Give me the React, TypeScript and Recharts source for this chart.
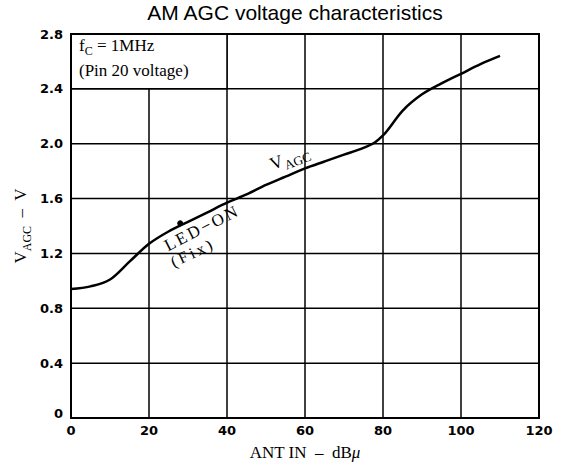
import React from 'react';
import {
  LineChart,
  Line,
  XAxis,
  YAxis,
  CartesianGrid,
  ReferenceArea,
  ReferenceDot,
} from 'recharts';

// ANT IN (dBμ) vs V_AGC (V)
const antIn = [0, 5, 10, 15, 20, 25, 30, 35, 40, 45, 50, 55, 60, 65, 70, 75, 78, 80, 85, 90, 95, 100, 105, 110];
const vAgc = [0.94, 0.96, 1.01, 1.14, 1.27, 1.36, 1.43, 1.5, 1.57, 1.63, 1.7, 1.76, 1.82, 1.87, 1.92, 1.97, 2.01, 2.06, 2.24, 2.36, 2.44, 2.51, 2.58, 2.64];

const xTicks = [0, 20, 40, 60, 80, 100, 120];
const yTicks = [0, 0.4, 0.8, 1.2, 1.6, 2.0, 2.4, 2.8];

// LED-ON (Fix) marker on the curve
const ledOnPoint = { x: 28, y: 1.42 };

const data = antIn.map((x, i) => ({ x, v: vAgc[i] }));

const serif = '"Liberation Serif", "DejaVu Serif", serif';
const tickFont = { fontFamily: '"DejaVu Sans", sans-serif', fontSize: 13, fontWeight: 700, fill: '#000' };

const YTick = (props: any) => {
  const { x, y, payload } = props;
  const label = payload.value === 0 ? '0' : payload.value.toFixed(1);
  return (
    <text x={x} y={payload.value === 0 ? y - 5 : y} dy="0.35em" textAnchor="end" {...tickFont}>
      {label}
    </text>
  );
};

// rotated text centred on (cx, cy)
const Tilted = ({ cx, cy, angle, size, spacing = 0, children }: any) => (
  <div
    style={{
      position: 'absolute',
      left: cx,
      top: cy,
      fontFamily: serif,
      fontSize: size,
      letterSpacing: spacing,
      lineHeight: 1,
      whiteSpace: 'nowrap',
      transform: `translate(-50%, -50%) rotate(${angle}deg)`,
    }}
  >
    {children}
  </div>
);

const App: React.FC = () => {
  return (
    <div
      style={{
        position: 'absolute',
        left: 0,
        top: 0,
        width: 565,
        height: 468,
        background: '#fff',
      }}
    >
      <div
        style={{
          position: 'absolute',
          left: 0,
          width: 590,
          top: 0,
          textAlign: 'center',
          fontFamily: '"Liberation Sans", Arial, sans-serif',
          fontSize: 21,
          lineHeight: '26px',
        }}
      >
        AM AGC voltage characteristics
      </div>

      <LineChart
        width={565}
        height={468}
        data={data}
        margin={{ top: 34, right: 26, bottom: 20, left: 11 }}
      >
        <CartesianGrid stroke="#000" strokeWidth={1.5} />
        <ReferenceArea
          x1={0}
          x2={40}
          y1={2.4}
          y2={2.8}
          fill="#fff"
          fillOpacity={1}
          stroke="#000"
          strokeWidth={1.5}
        />
        <ReferenceArea
          x1={0}
          x2={120}
          y1={0}
          y2={2.8}
          fill="none"
          stroke="#000"
          strokeWidth={2}
        />
        <XAxis
          dataKey="x"
          type="number"
          domain={[0, 120]}
          ticks={xTicks}
          axisLine={false}
          tickLine={false}
          tick={tickFont}
          height={30}
          interval={0}
        />
        <YAxis
          type="number"
          domain={[0, 2.8]}
          ticks={yTicks}
          axisLine={false}
          tickLine={false}
          tick={<YTick />}
          width={60}
          interval={0}
        />
        <Line
          dataKey="v"
          type="monotone"
          stroke="#000"
          strokeWidth={2.5}
          dot={false}
          isAnimationActive={false}
        />
        <ReferenceDot x={ledOnPoint.x} y={ledOnPoint.y} r={2.5} fill="#000" stroke="#000" />
      </LineChart>

      {/* box text */}
      <div
        style={{
          position: 'absolute',
          left: 79,
          top: 36,
          fontFamily: serif,
          fontSize: 17,
          lineHeight: '20px',
        }}
      >
        <div>
          f<sub style={{ fontSize: 12 }}>C</sub> = 1MHz
        </div>
        <div>(Pin 20 voltage)</div>
      </div>

      {/* curve labels */}
      <Tilted cx={290} cy={159} angle={-21} size={18}>
        V<sub style={{ fontSize: 13 }}>AGC</sub>
      </Tilted>
      <Tilted cx={202} cy={228} angle={-27} size={17} spacing={2.5}>
        LED−ON
      </Tilted>
      <Tilted cx={193} cy={253} angle={-25} size={16} spacing={3}>
        (Fix)
      </Tilted>

      {/* axis titles */}
      <div
        style={{
          position: 'absolute',
          left: 0,
          width: 610,
          top: 443,
          textAlign: 'center',
          fontFamily: serif,
          fontSize: 17,
          whiteSpace: 'pre',
        }}
      >
        {'ANT IN  –  dB'}
        <i>μ</i>
      </div>
      <div
        style={{
          position: 'absolute',
          left: 23,
          top: 226,
          fontFamily: serif,
          fontSize: 17,
          whiteSpace: 'pre',
          transform: 'translate(-50%, -50%) rotate(-90deg)',
        }}
      >
        V<sub style={{ fontSize: 12 }}>AGC</sub>
        {'  –  V'}
      </div>
    </div>
  );
};

export default App;
